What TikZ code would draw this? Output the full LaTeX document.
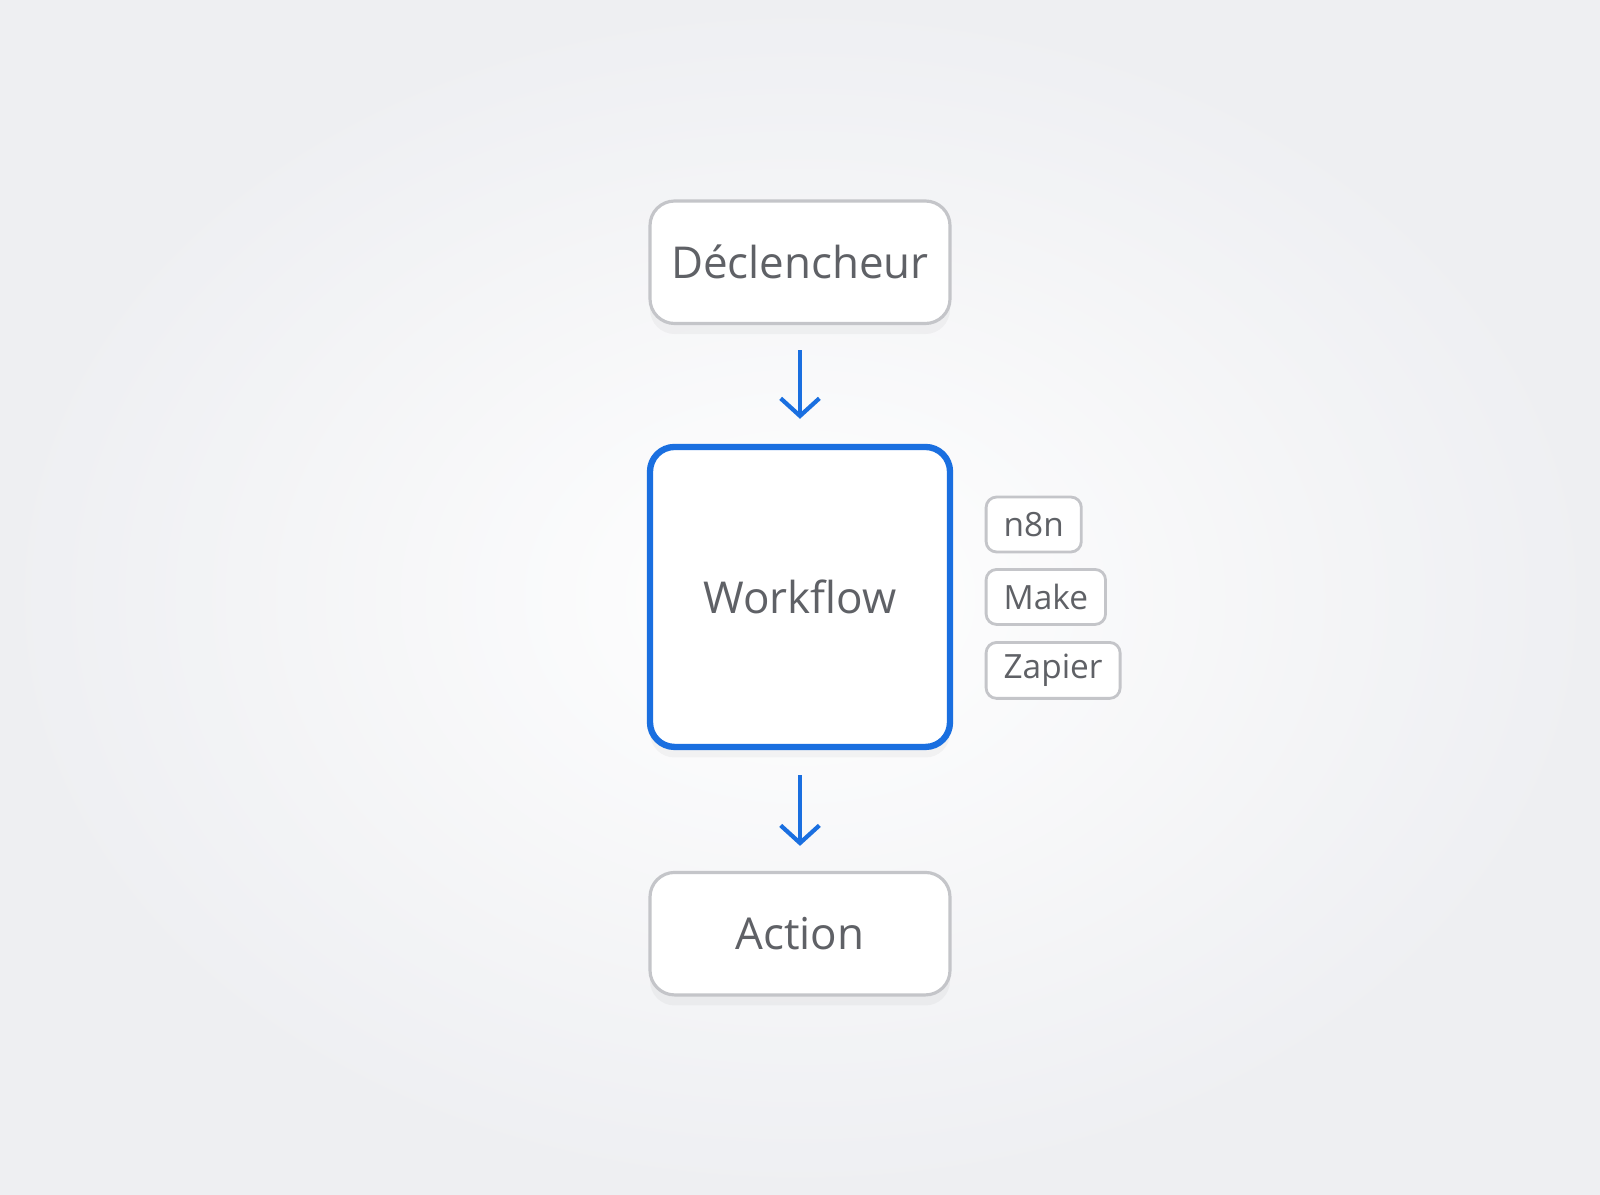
\documentclass[tikz,border=0pt]{standalone}
\usepackage{fontspec}
\setmainfont{Open Sans}
\usetikzlibrary{positioning,shadows,arrows.meta}
\definecolor{bluewf}{HTML}{1A6FE0}
\definecolor{textgray}{HTML}{5F6166}
\definecolor{edgegray}{HTML}{C4C5C9}
\definecolor{bggray}{HTML}{EEEFF2}

\begin{document}
\begin{tikzpicture}[x=1.0204cm,y=1.0204cm,
  box/.style={draw=edgegray,line width=0.9pt,fill=white,rounded corners=7pt,
    minimum width=3.0cm,minimum height=1.225cm,text=textgray,font=\fontsize{12.5}{15}\selectfont,
    drop shadow={opacity=0.07,shadow xshift=0pt,shadow yshift=-3pt}},
  tag/.style={draw=edgegray,line width=0.8pt,fill=white,rounded corners=3pt,
    minimum height=0.55cm,inner xsep=5pt,text=textgray,font=\fontsize{9.5}{12}\selectfont},
  flow/.style={draw=bluewf,line width=1.3pt,-{Straight Barb[length=5pt,width=11pt,line width=1.2pt]}}]
\useasboundingbox (0,0) rectangle (15.68,-11.71);
\shade[inner color=white,outer color=bggray] (0,0) rectangle (15.68,-11.71);
\node[box] (decl) at (7.84,-2.57) {Déclencheur};
\node[box,draw=bluewf,line width=1.8pt,minimum height=3.0cm] (wf) at (7.84,-5.85) {Workflow};
\node[box] (act) at (7.84,-9.15) {Action};
% tools
\node[tag,anchor=west] (n8n) at (9.65,-5.14) {n8n};
\node[tag,anchor=west] (make) at (9.65,-5.85) {Make};
\node[tag,anchor=west] (zap) at (9.65,-6.57) {Zapier};
\draw[flow] ([yshift=-0.25cm]decl.south) -- ([yshift=0.25cm]wf.north);
\draw[flow] ([yshift=-0.25cm]wf.south) -- ([yshift=0.25cm]act.north);
\end{tikzpicture}
\end{document}
